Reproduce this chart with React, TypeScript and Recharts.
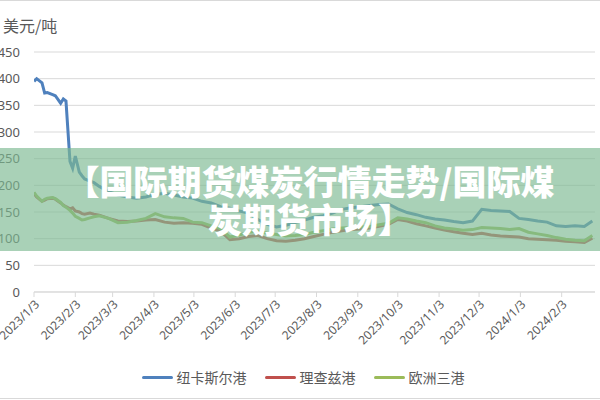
import { LineChart, Line, XAxis, YAxis, CartesianGrid } from 'recharts';

const dates = [
  '2023/1/3', '2023/1/5', '2023/1/9', '2023/1/11', '2023/1/13', '2023/1/17', '2023/1/19', '2023/1/23',
  '2023/1/25', '2023/1/27', '2023/1/30', '2023/2/1', '2023/2/3', '2023/2/6', '2023/2/8', '2023/2/10',
  '2023/2/14', '2023/2/17', '2023/2/21', '2023/2/28',
  '2023/3/7', '2023/3/14', '2023/3/21', '2023/3/28',
  '2023/4/4', '2023/4/11', '2023/4/18', '2023/4/25',
  '2023/5/2', '2023/5/9', '2023/5/16', '2023/5/23', '2023/5/30',
  '2023/6/6', '2023/6/13', '2023/6/20', '2023/6/27',
  '2023/7/4', '2023/7/11', '2023/7/18', '2023/7/25',
  '2023/8/1', '2023/8/8', '2023/8/15', '2023/8/22', '2023/8/29',
  '2023/9/5', '2023/9/12', '2023/9/19', '2023/9/26',
  '2023/10/3', '2023/10/10', '2023/10/17', '2023/10/24', '2023/10/31',
  '2023/11/7', '2023/11/14', '2023/11/21', '2023/11/28',
  '2023/12/5', '2023/12/12', '2023/12/19', '2023/12/26',
  '2024/1/2', '2024/1/9', '2024/1/16', '2024/1/23', '2024/1/30',
  '2024/2/6', '2024/2/13', '2024/2/20', '2024/2/26',
];

// 纽卡斯尔港
const newcastle = [
  395, 400, 392, 373, 374, 370, 368, 354, 362, 358, 245, 232, 255, 225, 218, 212, 208, 205, 198, 188,
  182, 178, 176, 178,
  183, 185, 182, 178,
  176, 170, 167, 160, 157,
  152, 148, 136, 127,
  122, 125, 130, 135,
  140, 143, 148, 155, 158,
  160, 162, 164, 165,
  156, 149, 145, 140, 137,
  135, 132, 130, 133,
  155, 153, 152, 151,
  138, 136, 133, 131, 124,
  123, 124, 123, 133,
];

// 理查兹港
const richardsBay = [
  185, 178, 170, 172, 175, 176, 174, 167, 163, 160, 156, 158, 152, 150, 147, 146, 148, 146, 144, 138,
  133, 132, 133, 135,
  136, 131, 129, 130,
  129, 127, 120, 114, 98,
  100, 104, 106, 100,
  96, 95, 97, 100,
  104, 108, 112, 115, 117,
  118, 120, 123, 127,
  136, 133, 128, 124, 120,
  116, 113, 110, 108,
  110, 107, 105, 104,
  103, 100, 99, 98, 97,
  95, 94, 93, 101,
];

// 欧洲三港
const araPorts = [
  187, 180, 170, 174, 176, 177, 175, 168, 162, 159, 153, 148, 142, 138, 135, 136, 139, 141, 143, 138,
  130, 131, 134, 138,
  147, 141, 139, 138,
  131, 130, 124, 119, 103,
  107, 112, 114, 110,
  108, 105, 106, 108,
  112, 115, 118, 120, 121,
  122, 123, 126, 129,
  139, 137, 133, 130, 124,
  120, 118, 116, 117,
  121, 120, 119, 117,
  119, 112, 109, 106, 102,
  99, 97, 96, 106,
];

const monthTicks = [
  '2023/1/3', '2023/2/3', '2023/3/3', '2023/4/3', '2023/5/3', '2023/6/3', '2023/7/3',
  '2023/8/3', '2023/9/3', '2023/10/3', '2023/11/3', '2023/12/3', '2024/1/3', '2024/2/3',
];

const yTicks = [0, 50, 100, 150, 200, 250, 300, 350, 400, 450];

const seriesNames = ['纽卡斯尔港', '理查兹港', '欧洲三港'];
const seriesColors = ['#4F81BD', '#C0504D', '#9BBB59'];

const BASE = Date.UTC(2023, 0, 3);
const toDay = (s: string) => {
  const [y, m, d] = s.split('/').map(Number);
  return (Date.UTC(y, m - 1, d) - BASE) / 86400000;
};

const data = dates.map((d, i) => ({
  day: toDay(d),
  newcastle: newcastle[i],
  richards: richardsBay[i],
  ara: araPorts[i],
}));

const tickDays = monthTicks.map(toDay);
const tickLabel = new Map(tickDays.map((t, i) => [t, monthTicks[i]]));

const App = () => {
  return (
    <div
      style={{
        position: 'absolute',
        left: 0,
        top: 0,
        width: 600,
        height: 400,
        background: '#fff',
        overflow: 'hidden',
        fontFamily: '"Noto Sans", "Noto Sans CJK SC", sans-serif',
      }}
    >
      <div style={{ position: 'absolute', left: 0, top: 0, width: 600, height: 1, background: '#d9d9d9' }} />
      <div style={{ position: 'absolute', left: 0, top: 398, width: 600, height: 1, background: '#d9d9d9' }} />
      <div
        style={{
          position: 'absolute',
          left: 3,
          top: 13,
          fontSize: 16,
          color: '#595959',
          fontFamily: '"Noto Sans CJK SC", sans-serif',
        }}
      >
        美元/吨
      </div>

      <LineChart width={600} height={400} data={data} margin={{ top: 52, right: 5, left: 0, bottom: 48 }}>
        <CartesianGrid vertical={false} stroke="#d9d9d9" />
        <XAxis
          type="number"
          dataKey="day"
          domain={[0, 421]}
          ticks={tickDays}
          interval={0}
          tickFormatter={(v) => tickLabel.get(v) ?? ''}
          angle={-45}
          textAnchor="end"
          height={60}
          stroke="#d9d9d9"
          tickSize={5}
          tickMargin={2}
          tick={{ fill: '#595959', fontSize: 12 }}
          allowDataOverflow
        />
        <YAxis
          domain={[0, 450]}
          ticks={yTicks}
          width={34}
          axisLine={false}
          tickLine={false}
          tickMargin={8}
          tick={{ fill: '#595959', fontSize: 13 }}
        />
        <Line dataKey="newcastle" name={seriesNames[0]} stroke={seriesColors[0]} strokeWidth={3} dot={false} isAnimationActive={false} />
        <Line dataKey="richards" name={seriesNames[1]} stroke={seriesColors[1]} strokeWidth={3} dot={false} isAnimationActive={false} />
        <Line dataKey="ara" name={seriesNames[2]} stroke={seriesColors[2]} strokeWidth={3} dot={false} isAnimationActive={false} />
      </LineChart>

      {/* legend */}
      <div
        style={{
          position: 'absolute',
          left: 0,
          top: 367,
          width: 600,
          display: 'flex',
          justifyContent: 'center',
          paddingLeft: 6,
          boxSizing: 'border-box',
          fontSize: 14,
          color: '#595959',
          fontFamily: '"Noto Sans CJK SC", serif',
        }}
      >
        {seriesNames.map((n, i) => (
          <div key={n} style={{ display: 'flex', alignItems: 'center', marginRight: i < 2 ? 18 : 0, height: 20 }}>
            <div style={{ width: 31, height: 3, background: seriesColors[i], borderRadius: 2, marginRight: 4 }} />
            <span>{n}</span>
          </div>
        ))}
      </div>

      {/* title band */}
      <div
        style={{
          position: 'absolute',
          left: 0,
          top: 148,
          width: 600,
          height: 103,
          background: 'rgba(125,185,145,0.66)',
          color: '#fff',
          fontWeight: 900,
          fontSize: 34,
          lineHeight: '38px',
          textAlign: 'center',
          paddingTop: 14,
          paddingLeft: 20,
          boxSizing: 'border-box',
          fontFamily: '"Noto Sans CJK SC", sans-serif',
        }}
      >
        <div>【国际期货煤炭行情走势/国际煤</div>
        <div>炭期货市场】</div>
      </div>
    </div>
  );
};

export default App;
